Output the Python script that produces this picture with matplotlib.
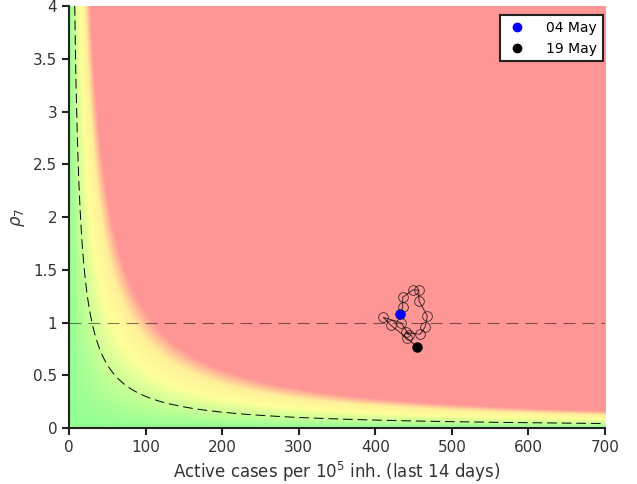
import numpy as np
import matplotlib
matplotlib.use("Agg")
import matplotlib.pyplot as plt
from matplotlib.colors import LinearSegmentedColormap

# --- data ---
# daily trajectory, 04 May -> 19 May (attack rate, rho_7)
cases = [431.9, 435.8, 435.8, 448.8, 456.7, 457.1, 468.0, 464.9,
         458.4, 440.1, 444.0, 433.6, 410.5, 420.5, 441.8, 454.1]
rho7 = [1.078, 1.144, 1.239, 1.308, 1.308, 1.204, 1.062, 0.954,
        0.888, 0.907, 0.882, 0.998, 1.049, 0.973, 0.850, 0.771]
first_label = "04 May"
last_label = "19 May"

epg_line = 30      # dashed iso-EPG curve
epg_max = 122      # top of the colour scale
x_max, y_max = 700, 4

x_ticks = [0, 100, 200, 300, 400, 500, 600, 700]
y_ticks = [0, 0.5, 1, 1.5, 2, 2.5, 3, 3.5, 4]
y_tick_labels = ["0", "0.5", "1", "1.5", "2", "2.5", "3", "3.5", "4"]

# --- figure ---
fig = plt.figure(figsize=(6.37, 4.84), dpi=100)
ax = fig.add_axes([0.1083, 0.1157, 0.8415, 0.8719])

# background coloured by EPG = cases * rho
cmap = LinearSegmentedColormap.from_list(
    "epg", [(0.0, (0.58, 1.0, 0.58)),
            (0.45, (1.0, 1.0, 0.6)),
            (0.68, (1.0, 0.94, 0.6)),
            (0.9, (1.0, 0.59, 0.59)),
            (1.0, (1.0, 0.59, 0.59))])
gx = np.linspace(0, x_max, 700)
gy = np.linspace(0, y_max, 400)
GX, GY = np.meshgrid(gx, gy)
ax.imshow(GX * GY, extent=[0, x_max, 0, y_max], origin="lower", aspect="auto",
          cmap=cmap, vmin=0, vmax=epg_max, interpolation="bilinear")

# iso-EPG curve and rho = 1
xc = np.linspace(epg_line / y_max, x_max, 800)
ax.plot(xc, epg_line / xc, color="k", lw=0.7, dashes=(10, 5))
ax.axhline(1, color="k", lw=0.8, alpha=0.5, dashes=(10.8, 6.3))

# trajectory
ax.plot(cases, rho7, color="k", lw=0.7, marker="o", ms=7, mfc="none",
        mec="k", mew=0.6, alpha=0.75)
ax.plot(cases[0], rho7[0], "o", color="blue", ms=6, label=first_label, ls="none")
ax.plot(cases[-1], rho7[-1], "o", color="black", ms=6, label=last_label, ls="none")

ax.set_xlim(0, x_max)
ax.set_ylim(0, y_max)
ax.set_xticks(x_ticks)
ax.set_yticks(y_ticks)
ax.set_yticklabels(y_tick_labels)

for s in ["top", "right"]:
    ax.spines[s].set_visible(False)
for s in ["left", "bottom"]:
    ax.spines[s].set_color("#222222")
    ax.spines[s].set_linewidth(1.5)
ax.tick_params(direction="out", length=5, width=1.5, colors="#222222",
               labelsize=11, labelcolor="#333333")

ax.set_xlabel("Active cases per 10$^5$ inh. (last 14 days)", fontsize=12,
              color="#333333")
ax.set_ylabel(r"$\rho_7$", fontsize=12, color="#333333")

leg = ax.legend(loc="upper right", fontsize=10, frameon=True, fancybox=False,
                handletextpad=1.3, borderpad=0.4, handlelength=1.6,
                borderaxespad=0, bbox_to_anchor=(0.996, 0.978))
leg.get_frame().set_edgecolor("#222222")
leg.get_frame().set_linewidth(1.5)
leg.get_frame().set_alpha(1)

fig.savefig("out.png", dpi=100)
